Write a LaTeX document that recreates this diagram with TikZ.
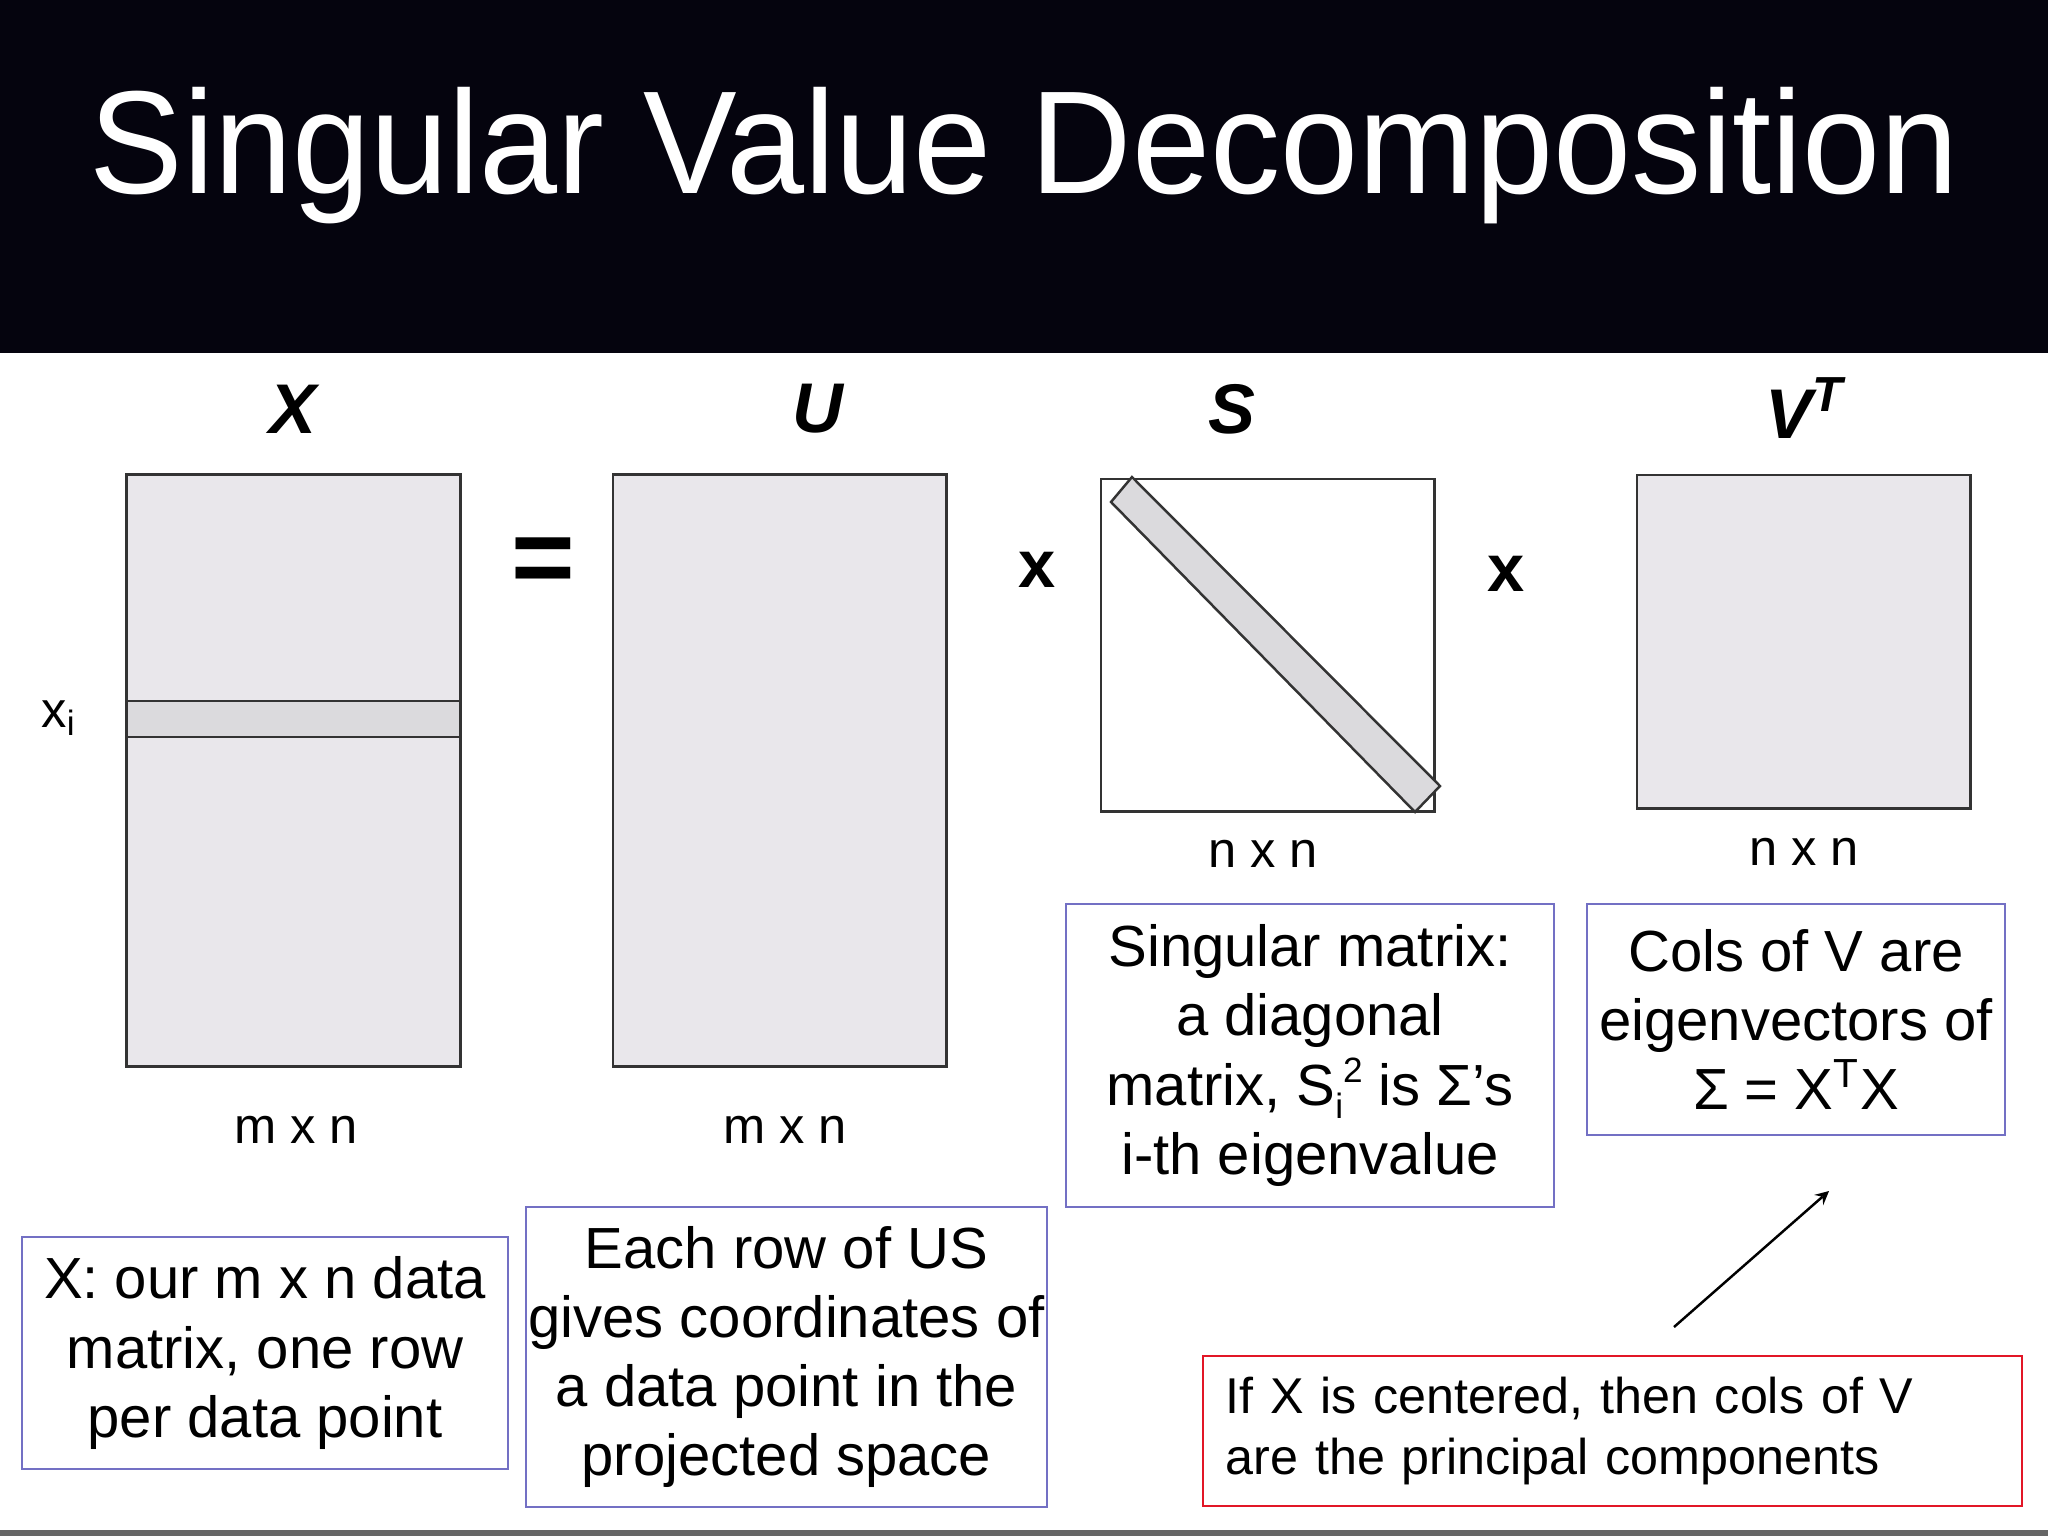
\documentclass[tikz,border=0pt]{standalone}
\usepackage{graphicx}
\usepackage{fontspec}
\setmainfont{Liberation Sans}
\usetikzlibrary{positioning}

\definecolor{slidebg}{RGB}{5,4,14}
\definecolor{matfill}{RGB}{233,231,235}
\definecolor{rowfill}{RGB}{219,218,221}
\definecolor{boxline}{RGB}{115,112,196}
\definecolor{redline}{RGB}{226,22,38}

\tikzset{
  mat/.style={draw=black!80, line width=0.8pt, fill=matfill, minimum width=3.33cm, inner sep=0pt},
  note/.style={draw=boxline, line width=0.7pt, align=center, inner sep=0pt,
    font=\fontsize{16.5}{19.7}\selectfont},
  dimlabel/.style={font=\fontsize{14.4}{17}\selectfont},
  matname/.style={font=\fontsize{20}{24}\selectfont\bfseries\itshape},
  opsign/.style={font=\fontsize{19}{22}\selectfont\bfseries},
}

\begin{document}
\begin{tikzpicture}[x=0.01cm, y=-0.01cm]
		\useasboundingbox (0,0) rectangle (2048,1536);
		\fill[slidebg] (0,0) rectangle (2048,353);
		\fill[black!60] (0,1530) rectangle (2048,1536);

		\draw (89,193) node [anchor=base west, inner sep=0pt, text=white,
		  font=\fontsize{41.7}{50}\selectfont] (title) {\scalebox{0.957}[1]{Singular Value Decomposition}};

		\draw (293.5,770.5) node [mat, minimum height=5.91cm] (X) {};
		\draw (293.5,719) node [mat, fill=rowfill, minimum height=0.36cm] (xrow) {};
		\draw (779.5,770.5) node [mat, minimum height=5.91cm] (U) {};
		\draw (1267.5,645) node [mat, fill=white, minimum height=3.32cm] (S) {};
		\draw[black!80, line width=0.7pt, fill=rowfill]
		  (1132,477) -- (1440,786) -- (1415,812) -- (1111,502) -- cycle;
		\draw (1803.5,641.5) node [mat, minimum height=3.33cm] (V) {};

		\draw (293,409) node [matname] (lX) {X};
		\draw (818,409) node [matname] (lU) {U};
		\draw (1232,409) node [matname] (lS) {S};
		\draw (1805,408) node [matname] (lV) {V\textsuperscript{T}};

		\draw (543,566) node [font=\fontsize{31}{34}\selectfont\bfseries] (eq) {=};
		\draw (1037,570) node [opsign] (op1) {x};
		\draw (1506,574) node [opsign] (op2) {x};

		\draw (59,718) node [dimlabel] (xi) {x\textsubscript{i}};
		\draw (296,1130) node [dimlabel] (dX) {m x n};
		\draw (785,1130) node [dimlabel] (dU) {m x n};
		\draw (1263,854) node [dimlabel] (dS) {n x n};
		\draw (1804,852) node [dimlabel] (dV) {n x n};

		\draw (265,1353) node [note, minimum width=4.86cm, minimum height=2.32cm] (nX)
		  {X: our m x n data\\matrix, one row\\per data point};
		\draw (786.5,1357) node [note, minimum width=5.21cm, minimum height=3.00cm] (nU)
		  {Each row of US\\gives coordinates of\\a data point in the\\projected space};
		\draw (1310,1055.5) node [note, minimum width=4.88cm, minimum height=3.03cm] (nS)
		  {Singular matrix:\\a diagonal\\matrix, S\raisebox{-0.45ex}{\fontsize{10}{10}\selectfont i}\raisebox{0.75ex}{\fontsize{10}{10}\selectfont 2} is Σ’s\\i-th eigenvalue};
		\draw (1796,1019.5) node [note, minimum width=4.18cm, minimum height=2.31cm] (nV)
		  {Cols of V are\\eigenvectors of\\Σ = X\textsuperscript{T}X};
		\draw (1612.5,1431) node [note, draw=redline, align=left, text width=7.73cm,
		  inner xsep=0.23cm, minimum height=1.50cm, font=\fontsize{14.3}{17.6}\selectfont] (pc)
		  {If X is centered, then cols of V\\are the principal components};

		\coordinate (tail) at (1674,1327);
		\coordinate (tip) at (1829,1191);
		\draw[->, >=stealth, line width=0.7pt] (tail) -- (tip);
	\end{tikzpicture}
\end{document}
